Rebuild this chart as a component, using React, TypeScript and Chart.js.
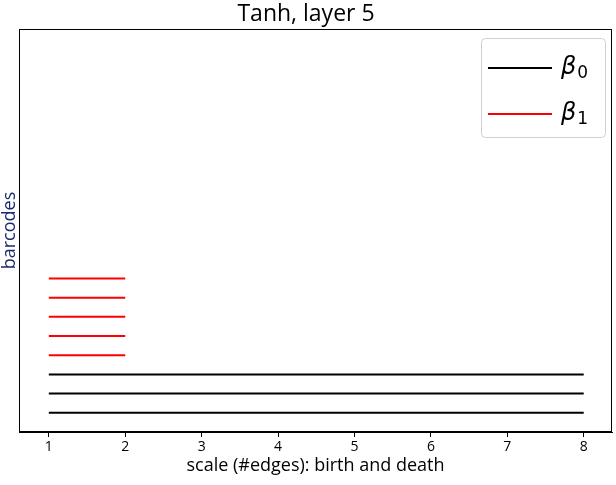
import React, { useEffect, useRef } from "react";
import { Chart, registerables } from "chart.js";
Chart.register(...registerables);

const chartTitle = "Tanh, layer 5";
const xLabel = "scale (#edges): birth and death";
const yLabel = "barcodes";
const xTicks = [1, 2, 3, 4, 5, 6, 7, 8];

const beta0Births = [1, 1, 1];
const beta0Deaths = [8, 8, 8];
const beta0Levels = [1, 2, 3];

const beta1Births = [1, 1, 1, 1, 1];
const beta1Deaths = [2, 2, 2, 2, 2];
const beta1Levels = [4, 5, 6, 7, 8];

const seriesNames = ["β", "β"];
const seriesSubs = ["0", "1"];
const seriesColors = ["#000000", "#ff0000"];

const FONT = "'Open Sans', 'DejaVu Sans', sans-serif";

function makeBars(births: number[], deaths: number[], levels: number[], group: number) {
  return births.map((b, i) => ({
    label: seriesNames[group] + seriesSubs[group],
    group,
    data: [
      { x: b, y: levels[i] },
      { x: deaths[i], y: levels[i] },
    ],
    showLine: true,
    borderColor: seriesColors[group],
    backgroundColor: seriesColors[group],
    borderWidth: 2,
    pointRadius: 0,
    pointHoverRadius: 0,
  }));
}

const framePlugin = {
  id: "frame",
  afterDraw(chart: any) {
    const { ctx, chartArea } = chart;
    ctx.save();
    ctx.strokeStyle = "#000";
    ctx.lineWidth = 1;
    ctx.strokeRect(
      Math.round(chartArea.left) + 0.5,
      Math.round(chartArea.top) + 0.5,
      Math.round(chartArea.right - chartArea.left) - 1,
      Math.round(chartArea.bottom - chartArea.top) - 1
    );
    ctx.restore();
  },
};

const legendPlugin = {
  id: "mplLegend",
  afterDraw(chart: any) {
    const { ctx, chartArea } = chart;
    const bx = chartArea.right - 131;
    const by = chartArea.top + 9;
    const bw = 124;
    const bh = 99;
    ctx.save();
    ctx.fillStyle = "rgba(255,255,255,0.8)";
    ctx.strokeStyle = "#d0d0d0";
    ctx.lineWidth = 1;
    ctx.beginPath();
    (ctx as any).roundRect(bx + 0.5, by + 0.5, bw, bh, 4);
    ctx.fill();
    ctx.stroke();
    seriesNames.forEach((name, i) => {
      const y = by + 30 + i * 46;
      ctx.strokeStyle = seriesColors[i];
      ctx.lineWidth = 2;
      ctx.beginPath();
      ctx.moveTo(bx + 7, y);
      ctx.lineTo(bx + 71, y);
      ctx.stroke();
      ctx.fillStyle = "#000";
      ctx.textBaseline = "middle";
      ctx.textAlign = "left";
      ctx.font = "italic 24px 'DejaVu Sans', sans-serif";
      ctx.fillText(name, bx + 80, y);
      const w = ctx.measureText(name).width;
      ctx.font = "17px 'DejaVu Sans', sans-serif";
      ctx.fillText(seriesSubs[i], bx + 80 + w + 1, y + 6);
    });
    ctx.restore();
  },
};

export default function App() {
  const ref = useRef<HTMLCanvasElement>(null);
  useEffect(() => {
    if (!ref.current) return;
    const datasets = [
      ...makeBars(beta0Births, beta0Deaths, beta0Levels, 0),
      ...makeBars(beta1Births, beta1Deaths, beta1Levels, 1),
    ];
    const chart = new Chart(ref.current, {
      type: "scatter",
      data: { datasets: datasets as any },
      options: {
        animation: false,
        responsive: true,
        maintainAspectRatio: false,
        layout: { padding: { top: 0, right: 4, bottom: 0, left: 0 } },
        plugins: {
          legend: { display: false },
          tooltip: { enabled: false },
          title: {
            display: true,
            text: chartTitle,
            color: "#000",
            font: { family: FONT, size: 23, weight: "normal", lineHeight: 29 / 23 },
            padding: { top: 0, bottom: 0 },
          },
        },
        scales: {
          x: {
            type: "linear",
            min: 0.61,
            max: 8.37,
            afterBuildTicks: (scale: any) => {
              scale.ticks = xTicks.map((v) => ({ value: v }));
            },
            afterFit: (scale: any) => {
              scale.height = 53;
            },
            ticks: {
              color: "#000",
              font: { family: FONT, size: 14 },
              padding: 2,
              maxRotation: 0,
            },
            grid: {
              drawOnChartArea: false,
              drawTicks: true,
              tickLength: 5,
              color: "#000",
            },
            border: { display: true, color: "#000", width: 1 },
            title: {
              display: true,
              text: xLabel,
              color: "#000",
              font: { family: FONT, size: 18 },
              padding: { top: 8, bottom: 8 },
            },
          },
          y: {
            type: "linear",
            min: 0,
            max: 21,
            afterFit: (scale: any) => {
              scale.width = 19;
            },
            ticks: { display: false },
            grid: { display: false, drawTicks: false },
            border: { display: true, color: "#000", width: 1 },
            title: {
              display: true,
              text: yLabel,
              color: "#1a2a6c",
              font: { family: FONT, size: 18, lineHeight: 1 },
              padding: { top: 1, bottom: 0 },
            },
          },
        },
      },
      plugins: [framePlugin, legendPlugin],
    });
    return () => chart.destroy();
  }, []);
  return (
    <div style={{ position: "fixed", left: 0, top: 0, width: 616, height: 485, background: "#fff" }}>
      <canvas ref={ref} />
    </div>
  );
}
